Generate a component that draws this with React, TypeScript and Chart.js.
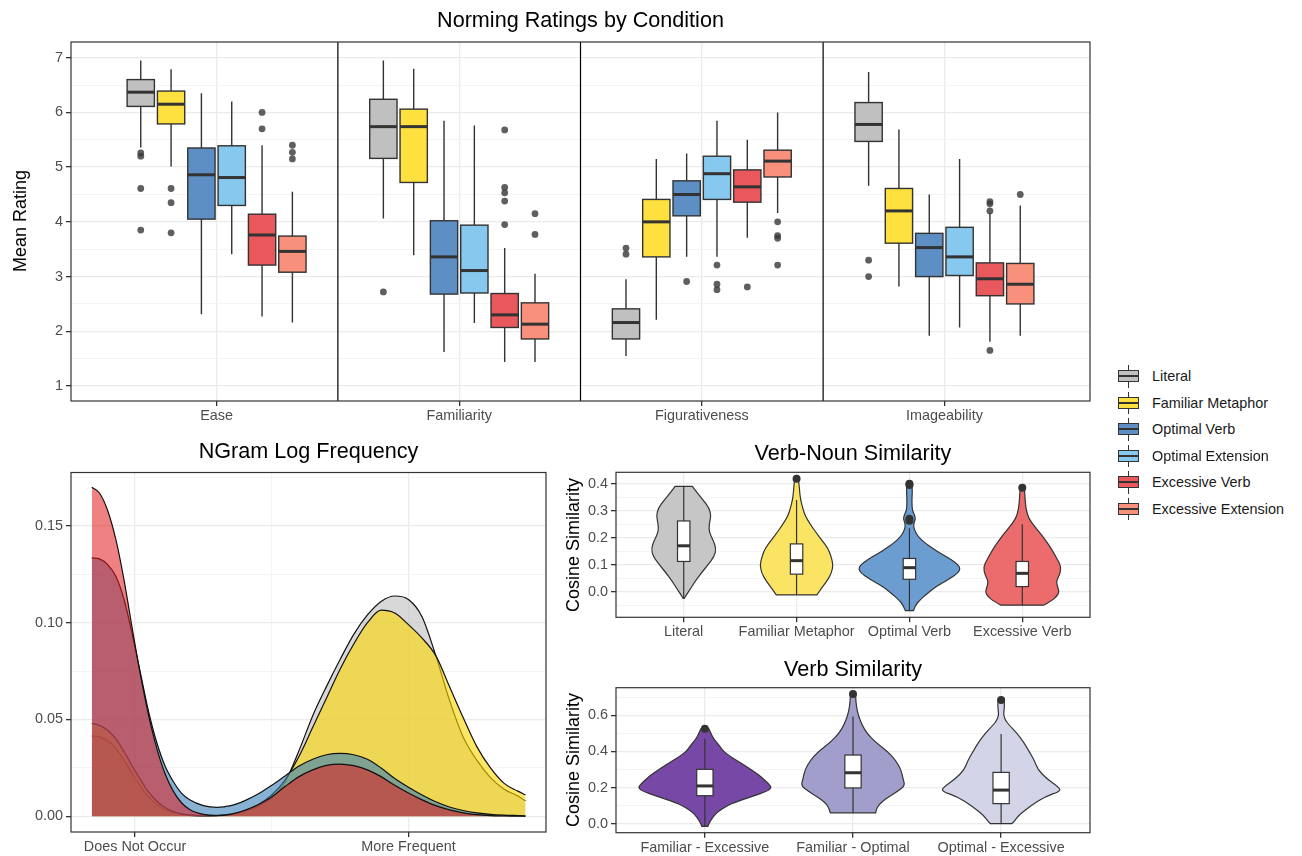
import React, { useEffect, useRef } from 'react';
import { Chart, registerables } from 'chart.js';

Chart.register(...registerables);

const FONT = "'Liberation Sans', Arial, Helvetica, sans-serif";
const TICK_COLOR = '#4D4D4D';
const AXIS_FONT = 14.4;

// ---------------- Norming ratings (box plots) ----------------
const RATING_CATEGORIES = ['Ease', 'Familiarity', 'Figurativeness', 'Imageability'];
const CONDITIONS = ['Literal', 'Familiar Metaphor', 'Optimal Verb', 'Optimal Extension', 'Excessive Verb', 'Excessive Extension'];
const CONDITION_COLORS = ['#C0C0C0', '#FEE13F', '#5E8FC4', '#86C8EE', '#E8585C', '#F8907B'];
const RATING_TICKS = [1, 1.5, 2, 2.5, 3, 3.5, 4, 4.5, 5, 5.5, 6, 6.5, 7];

// [lower whisker, Q1, median, Q3, upper whisker] for Ease, Familiarity, Figurativeness, Imageability
const LITERAL_BOX = [[5.36, 6.11, 6.37, 6.60, 6.95], [4.06, 5.16, 5.74, 6.24, 6.95], [1.55, 1.86, 2.16, 2.41, 2.95], [4.66, 5.47, 5.78, 6.18, 6.74]];
const FAMILIAR_BOX = [[5.01, 5.79, 6.15, 6.39, 6.79], [3.39, 4.72, 5.74, 6.06, 6.80], [2.21, 3.36, 4.00, 4.41, 5.15], [2.82, 3.61, 4.20, 4.61, 5.69]];
const OPT_VERB_BOX = [[2.31, 4.05, 4.86, 5.35, 6.35], [1.62, 2.68, 3.36, 4.02, 5.85], [3.36, 4.11, 4.50, 4.75, 5.25], [1.92, 3.00, 3.53, 3.79, 4.50]];
const OPT_EXT_BOX = [[3.41, 4.30, 4.81, 5.39, 6.20], [2.15, 2.70, 3.11, 3.94, 5.76], [3.36, 4.41, 4.88, 5.20, 5.85], [2.07, 3.02, 3.36, 3.90, 5.15]];
const EXC_VERB_BOX = [[2.27, 3.21, 3.76, 4.14, 5.40], [1.44, 2.07, 2.30, 2.69, 3.52], [3.71, 4.36, 4.64, 4.95, 5.50], [1.81, 2.65, 2.96, 3.25, 4.16]];
const EXC_EXT_BOX = [[2.16, 3.08, 3.46, 3.74, 4.55], [1.44, 1.86, 2.13, 2.52, 3.05], [4.16, 4.82, 5.11, 5.31, 6.00], [1.92, 2.50, 2.86, 3.24, 4.30]];

const LITERAL_OUT = [[5.26, 5.20, 4.61, 3.85], [2.72], [3.52, 3.41], [3.30, 3.00]];
const FAMILIAR_OUT = [[4.61, 4.35, 3.80], [], [], []];
const OPT_VERB_OUT = [[], [], [2.91], []];
const OPT_EXT_OUT = [[], [], [3.21, 2.86, 2.76], []];
const EXC_VERB_OUT = [[6.00, 5.70], [5.68, 4.63, 4.53, 4.38, 3.95], [2.81], [4.37, 4.33, 4.20, 1.65]];
const EXC_EXT_OUT = [[5.40, 5.27, 5.15], [4.15, 3.77], [4.00, 3.75, 3.70, 3.21], [4.50]];

const RATING_BOXES = [LITERAL_BOX, FAMILIAR_BOX, OPT_VERB_BOX, OPT_EXT_BOX, EXC_VERB_BOX, EXC_EXT_BOX];
const RATING_OUTLIERS = [LITERAL_OUT, FAMILIAR_OUT, OPT_VERB_OUT, OPT_EXT_OUT, EXC_VERB_OUT, EXC_EXT_OUT];

// ---------------- NGram log frequency (densities) ----------------
const NGRAM_TICKS = [0, 1];
const NGRAM_TICK_LABELS = ['Does Not Occur', 'More Frequent'];
const NGRAM_X = [-0.158, -0.13, -0.1, -0.07, -0.04, -0.01, 0.02, 0.05, 0.08, 0.11, 0.14, 0.17, 0.2, 0.25, 0.3, 0.35, 0.4, 0.45, 0.5, 0.55, 0.6, 0.65, 0.7, 0.75, 0.8, 0.85, 0.9, 0.95, 1.0, 1.05, 1.1, 1.15, 1.2, 1.25, 1.3, 1.35, 1.4, 1.428];
const NGRAM_LITERAL = [0.0415, 0.041, 0.039, 0.035, 0.029, 0.022, 0.0155, 0.010, 0.006, 0.0035, 0.002, 0.001, 0.0005, 0.0002, 0.0004, 0.001, 0.0025, 0.005, 0.0095, 0.018, 0.034, 0.052, 0.067, 0.081, 0.094, 0.104, 0.111, 0.1138, 0.112, 0.103, 0.083, 0.060, 0.041, 0.029, 0.020, 0.014, 0.0105, 0.008];
const NGRAM_FAMILIAR = [0.048, 0.047, 0.0445, 0.040, 0.0335, 0.026, 0.019, 0.0125, 0.0078, 0.0045, 0.0025, 0.0013, 0.0007, 0.0003, 0.0005, 0.0012, 0.003, 0.006, 0.011, 0.019, 0.031, 0.046, 0.061, 0.076, 0.089, 0.100, 0.1065, 0.105, 0.099, 0.092, 0.083, 0.067, 0.051, 0.036, 0.025, 0.017, 0.013, 0.011];
const NGRAM_OPT_VERB = [0.1335, 0.133, 0.130, 0.124, 0.112, 0.094, 0.074, 0.054, 0.038, 0.026, 0.018, 0.012, 0.0085, 0.0055, 0.0046, 0.0055, 0.008, 0.0115, 0.016, 0.021, 0.026, 0.0295, 0.0318, 0.0325, 0.0318, 0.0295, 0.025, 0.0195, 0.015, 0.011, 0.0075, 0.0048, 0.003, 0.0018, 0.001, 0.0006, 0.0004, 0.0003];
const NGRAM_EXC_VERB = [0.170, 0.167, 0.158, 0.143, 0.122, 0.097, 0.073, 0.052, 0.035, 0.022, 0.013, 0.007, 0.0035, 0.001, 0.0004, 0.001, 0.003, 0.006, 0.010, 0.0155, 0.0205, 0.024, 0.0263, 0.027, 0.0262, 0.024, 0.0205, 0.016, 0.012, 0.0085, 0.0055, 0.0033, 0.0018, 0.0009, 0.0004, 0.0002, 0.0001, 0.0];
const NGRAM_SERIES = [NGRAM_LITERAL, NGRAM_FAMILIAR, NGRAM_OPT_VERB, NGRAM_EXC_VERB];
const NGRAM_FILLS = ['rgba(190,190,190,0.6)', 'rgba(255,215,0,0.6)', 'rgba(55,126,184,0.6)', 'rgba(228,26,28,0.55)'];
const NGRAM_Y_TICKS = [0, 0.025, 0.05, 0.075, 0.1, 0.125, 0.15, 0.175];

// ---------------- Verb-Noun similarity (violins) ----------------
const VN_CATEGORIES = ['Literal', 'Familiar Metaphor', 'Optimal Verb', 'Excessive Verb'];
const VN_COLORS = ['#C6C6C6', '#FBE463', '#6C9DD0', '#EC6C6E'];
const VN_Y_TICKS = [-0.05, 0, 0.05, 0.1, 0.15, 0.2, 0.25, 0.3, 0.35, 0.4];
const VN_LITERAL_Y = [0.39, 0.37, 0.34, 0.31, 0.28, 0.25, 0.22, 0.19, 0.16, 0.13, 0.10, 0.07, 0.04, 0.01, -0.01, -0.025];
const VN_LITERAL_D = [0.17, 0.25, 0.38, 0.50, 0.54, 0.50, 0.50, 0.58, 0.64, 0.60, 0.48, 0.35, 0.23, 0.13, 0.06, 0.01];
const VN_FAMILIAR_Y = [0.418, 0.40, 0.37, 0.34, 0.31, 0.28, 0.25, 0.22, 0.19, 0.16, 0.13, 0.10, 0.07, 0.04, 0.01, -0.012];
const VN_FAMILIAR_D = [0.03, 0.05, 0.06, 0.08, 0.12, 0.17, 0.27, 0.38, 0.50, 0.62, 0.68, 0.72, 0.69, 0.60, 0.48, 0.40];
const VN_OPTIMAL_Y = [0.40, 0.38, 0.35, 0.32, 0.30, 0.285, 0.27, 0.255, 0.24, 0.22, 0.20, 0.18, 0.16, 0.14, 0.12, 0.10, 0.085, 0.07, 0.05, 0.03, 0.01, -0.01, -0.03, -0.05, -0.07];
const VN_OPTIMAL_D = [0.04, 0.06, 0.05, 0.05, 0.06, 0.10, 0.12, 0.09, 0.08, 0.12, 0.19, 0.31, 0.46, 0.63, 0.81, 0.96, 1.0, 0.96, 0.81, 0.62, 0.46, 0.33, 0.21, 0.12, 0.08];
const VN_EXCESSIVE_Y = [0.385, 0.36, 0.33, 0.30, 0.27, 0.24, 0.21, 0.18, 0.15, 0.12, 0.09, 0.06, 0.04, 0.02, 0.0, -0.02, -0.035, -0.05];
const VN_EXCESSIVE_D = [0.04, 0.05, 0.06, 0.08, 0.13, 0.25, 0.38, 0.50, 0.60, 0.69, 0.77, 0.73, 0.67, 0.69, 0.73, 0.67, 0.56, 0.42];
const VN_BOXES = [[-0.025, 0.112, 0.170, 0.262, 0.39], [-0.012, 0.065, 0.115, 0.177, 0.34], [-0.07, 0.046, 0.089, 0.123, 0.235], [-0.05, 0.019, 0.068, 0.112, 0.25]];
const VN_OUTLIERS = [[], [0.418], [0.40, 0.395, 0.27, 0.263], [0.385]];

// ---------------- Verb similarity (violins) ----------------
const VS_CATEGORIES = ['Familiar - Excessive', 'Familiar - Optimal', 'Optimal - Excessive'];
const VS_COLORS = ['#7848A6', '#A29ECC', '#D4D4E9'];
const VS_Y_TICKS = [0, 0.1, 0.2, 0.3, 0.4, 0.5, 0.6, 0.7];
const VS_FE_Y = [0.525, 0.50, 0.47, 0.45, 0.42, 0.40, 0.37, 0.35, 0.32, 0.30, 0.27, 0.25, 0.22, 0.20, 0.18, 0.15, 0.12, 0.10, 0.07, 0.05, 0.02, 0.0, -0.015];
const VS_FE_D = [0.06, 0.09, 0.13, 0.18, 0.24, 0.28, 0.39, 0.48, 0.61, 0.69, 0.81, 0.87, 0.96, 1.0, 0.94, 0.70, 0.46, 0.34, 0.21, 0.15, 0.09, 0.06, 0.045];
const VS_FO_Y = [0.718, 0.70, 0.65, 0.60, 0.55, 0.50, 0.45, 0.40, 0.35, 0.30, 0.25, 0.21, 0.18, 0.15, 0.12, 0.09, 0.06];
const VS_FO_D = [0.04, 0.04, 0.05, 0.08, 0.13, 0.21, 0.34, 0.52, 0.64, 0.72, 0.75, 0.78, 0.67, 0.54, 0.43, 0.36, 0.34];
const VS_OE_Y = [0.685, 0.66, 0.63, 0.60, 0.57, 0.55, 0.50, 0.45, 0.40, 0.35, 0.30, 0.25, 0.20, 0.18, 0.15, 0.10, 0.05, 0.01, 0.0];
const VS_OE_D = [0.045, 0.05, 0.045, 0.035, 0.07, 0.11, 0.24, 0.34, 0.42, 0.50, 0.55, 0.68, 0.87, 0.89, 0.66, 0.45, 0.27, 0.19, 0.16];
const VS_BOXES = [[-0.015, 0.155, 0.209, 0.301, 0.47], [0.06, 0.198, 0.282, 0.38, 0.593], [0.0, 0.111, 0.186, 0.284, 0.497]];
const VS_OUTLIERS = [[0.525], [0.718], [0.685]];

// ---------------- helpers ----------------
const isMultiple = (v: number, step: number) => Math.abs(v / step - Math.round(v / step)) < 1e-6;

function tickFont() {
  return { family: FONT, size: AXIS_FONT };
}

function panelPlugin(separators: number[] = []) {
  return {
    id: 'panelFrame' + separators.length,
    beforeDatasetsDraw(chart: any) {
      const { ctx, chartArea: a, scales } = chart;
      ctx.save();
      ctx.strokeStyle = '#000';
      ctx.lineWidth = 1.2;
      separators.forEach((s) => {
        const px = scales.x.getPixelForValue(s);
        ctx.beginPath();
        ctx.moveTo(px, a.top);
        ctx.lineTo(px, a.bottom);
        ctx.stroke();
      });
      ctx.restore();
    },
    afterDatasetsDraw(chart: any) {
      const { ctx, chartArea: a } = chart;
      ctx.save();
      ctx.strokeStyle = '#333';
      ctx.lineWidth = 1.2;
      ctx.strokeRect(a.left, a.top, a.right - a.left, a.bottom - a.top);
      ctx.restore();
    },
  };
}

function drawBox(ctx: any, xs: any, ys: any, cx: number, hw: number, st: number[], fill: string, lw: number, medLw: number) {
  const [lo, q1, med, q3, hi] = st;
  const px = xs.getPixelForValue(cx);
  const l = xs.getPixelForValue(cx - hw);
  const r = xs.getPixelForValue(cx + hw);
  const t = ys.getPixelForValue(q3);
  const b = ys.getPixelForValue(q1);
  ctx.strokeStyle = '#333';
  ctx.lineWidth = lw;
  ctx.beginPath();
  ctx.moveTo(px, ys.getPixelForValue(hi));
  ctx.lineTo(px, t);
  ctx.moveTo(px, b);
  ctx.lineTo(px, ys.getPixelForValue(lo));
  ctx.stroke();
  ctx.fillStyle = fill;
  ctx.fillRect(l, t, r - l, b - t);
  ctx.strokeRect(l, t, r - l, b - t);
  ctx.lineWidth = medLw;
  ctx.beginPath();
  const m = ys.getPixelForValue(med);
  ctx.moveTo(l, m);
  ctx.lineTo(r, m);
  ctx.stroke();
}

function yScale(min: number, max: number, ticks: number[], majorStep: number, fmt: (v: number) => string, width: number) {
  return {
    type: 'linear',
    min,
    max,
    afterBuildTicks: (s: any) => {
      s.ticks = ticks.map((v) => ({ value: v }));
    },
    afterFit: (s: any) => {
      s.width = width;
    },
    ticks: {
      autoSkip: false,
      padding: 3,
      color: TICK_COLOR,
      font: tickFont(),
      callback: (v: number) => (isMultiple(v, majorStep) ? fmt(v) : ''),
    },
    grid: {
      color: (c: any) => (c.tick && isMultiple(c.tick.value, majorStep) ? '#EBEBEB' : '#F3F3F3'),
      lineWidth: (c: any) => (c.tick && isMultiple(c.tick.value, majorStep) ? 1.3 : 0.9),
      tickColor: (c: any) => (c.tick && isMultiple(c.tick.value, majorStep) ? '#333' : 'rgba(0,0,0,0)'),
      tickLength: 5,
    },
    border: { display: false },
  };
}

function xCategoryScale(n: number, labels: string[], height: number) {
  return {
    type: 'linear',
    min: 0.4,
    max: n + 0.6,
    afterBuildTicks: (s: any) => {
      s.ticks = labels.map((_, i) => ({ value: i + 1 }));
    },
    afterFit: (s: any) => {
      s.height = height;
    },
    ticks: {
      autoSkip: false,
      maxRotation: 0,
      minRotation: 0,
      padding: 1.5,
      color: TICK_COLOR,
      font: tickFont(),
      callback: (v: number) => labels[Math.round(v) - 1] ?? '',
    },
    grid: { color: '#EBEBEB', lineWidth: 1.3, tickColor: '#333', tickLength: 5 },
    border: { display: false },
  };
}

const BASE_OPTIONS = {
  responsive: false,
  animation: false,
  events: [],
  plugins: { legend: { display: false }, tooltip: { enabled: false } },
};

// ---------------- configs ----------------
const DODGE = 0.125;
const BOX_HALF = 0.05625;

function ratingConfig() {
  const outliers: { x: number; y: number }[] = [];
  RATING_OUTLIERS.forEach((grp, g) =>
    grp.forEach((vals, c) => vals.forEach((v) => outliers.push({ x: c + 1 + (g - 2.5) * DODGE, y: v })))
  );
  const boxPlugin = {
    id: 'ratingBoxes',
    beforeDatasetsDraw(chart: any) {
      const { ctx, scales } = chart;
      ctx.save();
      RATING_BOXES.forEach((grp, g) =>
        grp.forEach((st, c) =>
          drawBox(ctx, scales.x, scales.y, c + 1 + (g - 2.5) * DODGE, BOX_HALF, st, CONDITION_COLORS[g], 1.4, 3)
        )
      );
      ctx.restore();
    },
  };
  return {
    type: 'scatter',
    data: {
      datasets: [
        { data: outliers, pointRadius: 3.4, pointBackgroundColor: 'rgba(60,60,60,0.82)', pointBorderWidth: 0 },
      ],
    },
    options: {
      ...BASE_OPTIONS,
      layout: { padding: { top: 42, right: 10, left: 0, bottom: 0 } },
      scales: {
        x: xCategoryScale(4, RATING_CATEGORIES, 30),
        y: yScale(0.726, 7.287, RATING_TICKS, 1, (v) => String(v), 71),
      },
    },
    plugins: [panelPlugin([1.5, 2.5, 3.5]), boxPlugin],
  };
}

function ngramConfig() {
  return {
    type: 'line',
    data: {
      datasets: NGRAM_SERIES.map((ser, i) => ({
        data: NGRAM_X.map((x, j) => ({ x, y: ser[j] })),
        borderColor: '#111',
        borderWidth: 1.2,
        backgroundColor: NGRAM_FILLS[i],
        fill: 'origin',
        pointRadius: 0,
        cubicInterpolationMode: 'monotone',
        order: NGRAM_SERIES.length - i,
      })),
    },
    options: {
      ...BASE_OPTIONS,
      layout: { padding: { top: 32.5, right: 14, left: 0, bottom: 0 } },
      scales: {
        x: {
          type: 'linear',
          min: -0.234,
          max: 1.503,
          afterBuildTicks: (s: any) => {
            s.ticks = [0, 0.5, 1, 1.5].map((v) => ({ value: v }));
          },
          afterFit: (s: any) => {
            s.height = 24;
          },
          ticks: {
            autoSkip: false,
            maxRotation: 0,
            padding: 1.5,
            color: TICK_COLOR,
            font: tickFont(),
            callback: (v: number) => {
              const k = NGRAM_TICKS.indexOf(v);
              return k >= 0 ? NGRAM_TICK_LABELS[k] : '';
            },
          },
          grid: {
            color: (c: any) => (c.tick && NGRAM_TICKS.includes(c.tick.value) ? '#EBEBEB' : '#F3F3F3'),
            lineWidth: (c: any) => (c.tick && NGRAM_TICKS.includes(c.tick.value) ? 1.3 : 0.9),
            tickColor: (c: any) => (c.tick && NGRAM_TICKS.includes(c.tick.value) ? '#333' : 'rgba(0,0,0,0)'),
            tickLength: 5,
          },
          border: { display: false },
        },
        y: yScale(-0.0081, 0.1776, NGRAM_Y_TICKS, 0.05, (v) => v.toFixed(2), 71),
      },
    },
    plugins: [panelPlugin([])],
  };
}

function traceSmooth(ctx: any, pts: number[][], first: boolean) {
  if (first) ctx.moveTo(pts[0][0], pts[0][1]);
  else ctx.lineTo(pts[0][0], pts[0][1]);
  for (let i = 1; i < pts.length - 1; i++) {
    const mx = (pts[i][0] + pts[i + 1][0]) / 2;
    const my = (pts[i][1] + pts[i + 1][1]) / 2;
    ctx.quadraticCurveTo(pts[i][0], pts[i][1], mx, my);
  }
  ctx.lineTo(pts[pts.length - 1][0], pts[pts.length - 1][1]);
}

function violinConfig(
  categories: string[],
  ys: number[][],
  ds: number[][],
  colors: string[],
  boxes: number[][],
  outliers: number[][],
  yMin: number,
  yMax: number,
  yTicks: number[],
  majorStep: number,
  padTop: number,
  xHeight: number
) {
  const pts: { x: number; y: number }[] = [];
  outliers.forEach((vals, c) => vals.forEach((v) => pts.push({ x: c + 1, y: v })));
  const violinPlugin = {
    id: 'violins',
    beforeDatasetsDraw(chart: any) {
      const { ctx, scales } = chart;
      const xs = scales.x;
      const yy = scales.y;
      ctx.save();
      ys.forEach((yv, c) => {
        const cx = c + 1;
        const right = yv.map((v, i) => [xs.getPixelForValue(cx + ds[c][i] * 0.45), yy.getPixelForValue(v)]);
        const left = yv.map((v, i) => [xs.getPixelForValue(cx - ds[c][i] * 0.45), yy.getPixelForValue(v)]).reverse();
        ctx.beginPath();
        traceSmooth(ctx, right, true);
        traceSmooth(ctx, left, false);
        ctx.closePath();
        ctx.fillStyle = colors[c];
        ctx.fill();
        ctx.strokeStyle = '#333';
        ctx.lineWidth = 1.2;
        ctx.stroke();
        drawBox(ctx, xs, yy, cx, 0.055, boxes[c], '#FFFFFF', 1.2, 3);
      });
      ctx.restore();
    },
  };
  return {
    type: 'scatter',
    data: {
      datasets: [{ data: pts, pointRadius: 4, pointBackgroundColor: '#333', pointBorderWidth: 0 }],
    },
    options: {
      ...BASE_OPTIONS,
      layout: { padding: { top: padTop, right: 10, left: 0, bottom: 0 } },
      scales: {
        x: xCategoryScale(categories.length, categories, xHeight),
        y: yScale(yMin, yMax, yTicks, majorStep, (v) => v.toFixed(1), 61),
      },
    },
    plugins: [panelPlugin([]), violinPlugin],
  };
}

function ChartCanvas({ left, top, width, height, make }: any) {
  const ref = useRef<HTMLCanvasElement>(null);
  useEffect(() => {
    const chart = new Chart(ref.current as HTMLCanvasElement, make());
    return () => chart.destroy();
  }, []);
  return (
    <canvas
      ref={ref}
      width={width}
      height={height}
      style={{ position: 'absolute', left, top, width, height, display: 'block' }}
    />
  );
}

function Label({ x, y, size, text, rotate }: any) {
  return (
    <div
      style={{
        position: 'absolute',
        left: x,
        top: y,
        transform: `translate(-50%, -50%)${rotate ? ' rotate(-90deg)' : ''}`,
        fontFamily: FONT,
        fontSize: size,
        lineHeight: 1,
        whiteSpace: 'nowrap',
        color: '#000',
      }}
    >
      {text}
    </div>
  );
}

function Legend() {
  return (
    <div style={{ position: 'absolute', left: 1114, top: 363 }}>
      {CONDITIONS.map((name, i) => (
        <div key={name} style={{ position: 'absolute', left: 0, top: i * 26.5, width: 200, height: 26.5 }}>
          <div style={{ position: 'absolute', left: 14, top: 2, width: 1.3, height: 22.5, background: '#333' }} />
          <div
            style={{
              position: 'absolute',
              left: 4,
              top: 7,
              width: 21,
              height: 12,
              boxSizing: 'border-box',
              border: '1.3px solid #333',
              background: CONDITION_COLORS[i],
            }}
          />
          <div style={{ position: 'absolute', left: 4, top: 12, width: 21, height: 2, background: '#333' }} />
          <div
            style={{
              position: 'absolute',
              left: 38,
              top: 13.25,
              transform: 'translateY(-50%)',
              fontFamily: FONT,
              fontSize: AXIS_FONT,
              lineHeight: 1,
              whiteSpace: 'nowrap',
              color: '#1A1A1A',
            }}
          >
            {name}
          </div>
        </div>
      ))}
    </div>
  );
}

export default function App() {
  return (
    <div
      style={{
        position: 'absolute',
        left: 0,
        top: 0,
        width: 1302,
        height: 856,
        overflow: 'hidden',
        background: '#FFFFFF',
      }}
    >
      <ChartCanvas left={0} top={0} width={1100} height={431} make={ratingConfig} />
      <ChartCanvas left={0} top={440} width={560} height={416} make={ngramConfig} />
      <ChartCanvas
        left={555}
        top={440}
        width={545}
        height={200}
        make={() =>
          violinConfig(
            VN_CATEGORIES,
            [VN_LITERAL_Y, VN_FAMILIAR_Y, VN_OPTIMAL_Y, VN_EXCESSIVE_Y],
            [VN_LITERAL_D, VN_FAMILIAR_D, VN_OPTIMAL_D, VN_EXCESSIVE_D],
            VN_COLORS,
            VN_BOXES,
            VN_OUTLIERS,
            -0.0948,
            0.4422,
            VN_Y_TICKS,
            0.1,
            32.3,
            22.7
          )
        }
      />
      <ChartCanvas
        left={555}
        top={650}
        width={545}
        height={206}
        make={() =>
          violinConfig(
            VS_CATEGORIES,
            [VS_FE_Y, VS_FO_Y, VS_OE_Y],
            [VS_FE_D, VS_FO_D, VS_OE_D],
            VS_COLORS,
            VS_BOXES,
            VS_OUTLIERS,
            -0.0498,
            0.7527,
            VS_Y_TICKS,
            0.2,
            37.7,
            23.3
          )
        }
      />
      <Label x={580.5} y={20} size={21.6} text="Norming Ratings by Condition" />
      <Label x={20} y={221} size={18} text="Mean Rating" rotate />
      <Label x={308.5} y={451} size={21.6} text="NGram Log Frequency" />
      <Label x={853} y={452.5} size={21.6} text="Verb-Noun Similarity" />
      <Label x={573} y={545} size={18} text="Cosine Similarity" rotate />
      <Label x={853} y={669} size={21.6} text="Verb Similarity" />
      <Label x={573} y={760} size={18} text="Cosine Similarity" rotate />
      <Legend />
    </div>
  );
}
